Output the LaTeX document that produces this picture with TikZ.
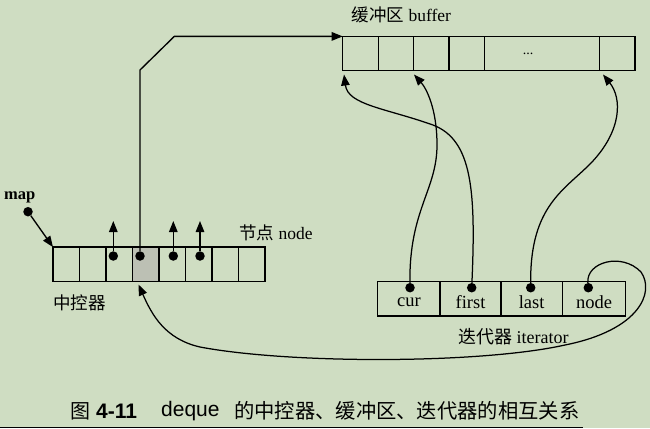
\documentclass[tikz,border=0pt]{standalone}
\usepackage{fontspec}
\setmainfont{Liberation Serif}
\newfontfamily\cjk{Noto Sans CJK SC}
\newfontfamily\capsf{Liberation Sans}
\usetikzlibrary{arrows.meta}
\definecolor{bg}{RGB}{207,221,194}
\definecolor{shade}{RGB}{188,192,180}
\begin{document}
\begin{tikzpicture}[x=1bp,y=-1bp,
  cell/.style={draw=black, line width=1.25bp, inner sep=0pt, outer sep=0pt, minimum height=34.4bp},
  dot/.style={circle, fill=black, inner sep=0pt, minimum size=9.5bp},
  ptr/.style={line width=1.35bp, -{Triangle[length=11bp,width=8.5bp]}},
  cptr/.style={line width=1.25bp, -{Triangle[length=11bp,width=8.5bp]}},
  lbl/.style={inner sep=0pt, anchor=west},
  ctext/.style={font=\fontsize{18.5bp}{20bp}\selectfont, text depth=0pt, yshift=-3bp},
]
\fill[bg] (0,0) rectangle (650,428);
\useasboundingbox (0,0) rectangle (650,428);

% map (中控器)
\node[cell, minimum width=26.5bp] (m1) at (66.25,264.3) {};
\node[cell, minimum width=26.5bp] (m2) at (92.75,264.3) {};
\node[cell, minimum width=26.5bp] (m3) at (119.25,264.3) {};
\node[cell, minimum width=26.5bp, fill=shade] (m4) at (145.75,264.3) {};
\node[cell, minimum width=26.5bp] (m5) at (172.25,264.3) {};
\node[cell, minimum width=26.5bp] (m6) at (198.75,264.3) {};
\node[cell, minimum width=26.5bp] (m7) at (225.25,264.3) {};
\node[cell, minimum width=26.5bp] (m8) at (251.75,264.3) {};

% buffer
\node[cell, minimum width=36bp] (b1) at (360.7,53.6) {};
\node[cell, minimum width=34.6bp] (b2) at (396,53.6) {};
\node[cell, minimum width=35.7bp] (b3) at (431.15,53.6) {};
\node[cell, minimum width=35.7bp] (b4) at (466.85,53.6) {};
\node[cell, minimum width=114.6bp] (b5) at (542,53.6) {};
\node[cell, minimum width=35.7bp] (b6) at (617.15,53.6) {};
\node[inner sep=0pt, font=\fontsize{14bp}{16bp}\selectfont] (dots) at (528,54) {...};

% iterator
\node[cell, minimum width=62.3bp] (i1) at (408.85,298.85) {};
\node[cell, minimum width=61bp] (i2) at (470.5,298.85) {};
\node[cell, minimum width=61.3bp] (i3) at (531.65,298.85) {};
\node[cell, minimum width=63.4bp] (i4) at (594,298.85) {};
\node[inner sep=0pt, ctext] (t1) at (i1) {cur};
\node[inner sep=0pt, ctext] (t2) at (i2) {first};
\node[inner sep=0pt, ctext] (t3) at (i3) {last};
\node[inner sep=0pt, ctext] (t4) at (i4) {node};

% labels
\node[lbl, font=\fontsize{17.5bp}{19bp}\selectfont] (lbuf) at (351.5,15) {{\cjk 缓冲区} buffer};
\node[lbl, font=\bfseries\fontsize{16.5bp}{18bp}\selectfont] (lmap) at (4,197) {map};
\node[lbl, font=\fontsize{17.5bp}{19bp}\selectfont] (lnode) at (239,233) {{\cjk 节点} node};
\node[lbl, font=\fontsize{17.5bp}{19bp}\selectfont] (lctrl) at (53,303) {\cjk 中控器};
\node[lbl, font=\fontsize{18bp}{19bp}\selectfont] (liter) at (458,336.5) {{\cjk 迭代器} iterator};

% caption
\node[lbl, font=\fontsize{20bp}{22bp}\selectfont] (capA) at (70,411) {\cjk 图};
\node[lbl, font=\capsf\bfseries\fontsize{21bp}{22bp}\selectfont] (capB) at (96,411) {4-11};
\node[lbl, font=\capsf\fontsize{21bp}{22bp}\selectfont] (capC) at (161,411) {deque};
\node[lbl, font=\fontsize{20.3bp}{22bp}\selectfont] (capD) at (234,411) {\cjk 的中控器、缓冲区、迭代器的相互关系};
\draw[line width=1.6bp] (0,427.3) -- (583,427.3);

% dots in map
\node[dot] (dmap) at (28,211.7) {};
\node[dot] (d1) at (113.3,256) {};
\node[dot] (d2) at (140,256) {};
\node[dot] (d3) at (173.3,256) {};
\node[dot] (d4) at (200,256) {};
\coordinate (u1) at (113.3,221);
\coordinate (u3) at (173.3,221);
\coordinate (u4) at (200,221);
\coordinate (k1) at (140,70);
\coordinate (k2) at (174.3,36.4);

\draw[ptr] (dmap) -- (m1.north west);
\draw[ptr] (d1) -- (u1);
\draw[ptr] (d3) -- (u3);
\draw[ptr] (d4) -- (u4);
\draw[ptr] (d2) -- (k1) -- (k2) -- (b1.north west);

% iterator dots
\node[dot] (dc) at (410,287.7) {};
\node[dot] (df) at (471.7,287.7) {};
\node[dot] (dl) at (530.7,287.7) {};
\node[dot] (dn) at (588.3,287.7) {};
\coordinate (tb1) at (344,74.5);
\coordinate (tb3) at (414,74.5);
\coordinate (tb6) at (603,74.5);
\coordinate (tm4) at (138.5,284.5);

\draw[cptr] (dc) .. controls (409,210) and (437,190) .. (437,145) .. controls (437,108) and (426,88) .. (tb3);
\draw[cptr] (df) .. controls (476,190) and (472,140) .. (433,125) .. controls (385,108) and (348,105) .. (tb1);
\draw[cptr] (dl) .. controls (530,205) and (565,190) .. (592,162) .. controls (622,130) and (622,98) .. (tb6);
\draw[cptr] (dn) .. controls (586,262) and (622,252) .. (641,272) .. controls (655,292) and (640,330) .. (565,345) .. controls (480,364) and (290,364) .. (200,347) .. controls (165,339) and (152,315) .. (tm4);
\end{tikzpicture}
\end{document}
